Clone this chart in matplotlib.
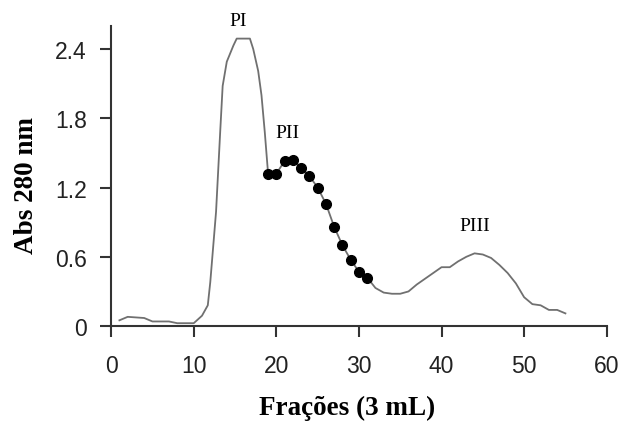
import matplotlib
matplotlib.use("Agg")
import matplotlib.pyplot as plt

# Perfil de eluição (Abs 280 nm) por fração
fracoes = [1, 2, 3, 4, 5, 6, 7, 8, 9, 10, 11, 11.7, 12, 12.7, 13.2, 13.5, 14, 14.8,
           15.2, 16.8, 17.2, 17.8, 18.2, 18.6, 19,
           20, 21, 22, 23, 24, 25, 26, 27, 28, 29, 30, 31,
           32, 33, 34, 35, 36, 37, 38, 39, 40, 41, 42, 43, 44, 45, 46, 47, 48,
           49, 50, 51, 52, 53, 54, 55]
absorb = [0.05, 0.08, 0.075, 0.07, 0.04, 0.04, 0.04, 0.025, 0.025, 0.025, 0.09, 0.18, 0.38,
          0.99, 1.68, 2.08, 2.29, 2.43, 2.49, 2.49, 2.40, 2.21, 2.00, 1.68, 1.32,
          1.32, 1.43, 1.44, 1.37, 1.30, 1.20, 1.06, 0.86, 0.70, 0.575, 0.47, 0.42,
          0.33, 0.29, 0.28, 0.28, 0.30, 0.36, 0.41, 0.46, 0.51, 0.51, 0.56, 0.60,
          0.63, 0.62, 0.59, 0.53, 0.46, 0.37, 0.25, 0.19, 0.18, 0.14, 0.14, 0.11]

# frações do pico PII marcadas com pontos
fracoes_pii = [19, 20, 21, 22, 23, 24, 25, 26, 27, 28, 29, 30, 31]
absorb_pii = [1.32, 1.32, 1.43, 1.44, 1.37, 1.30, 1.20, 1.06, 0.86, 0.70, 0.575, 0.47, 0.42]

picos = ["PI", "PII", "PIII"]
picos_x = [15.4, 21.4, 44.0]
picos_y = [2.65, 1.68, 0.875]

fig = plt.figure(figsize=(6.21, 4.27), dpi=100)
ax = fig.add_axes([0.179, 0.234, 0.798, 0.703])

ax.plot(fracoes, absorb, color="#707070", lw=1.3)
ax.plot(fracoes_pii, absorb_pii, "o", color="black", ms=7)

for nome, px, py in zip(picos, picos_x, picos_y):
    ax.text(px, py, nome, family="Liberation Serif", fontsize=14,
            ha="center", va="center", clip_on=False)

ax.set_xlim(0, 60)
ax.set_ylim(0, 2.6)
ax.set_xticks([0, 10, 20, 30, 40, 50, 60])
ax.set_yticks([0, 0.6, 1.2, 1.8, 2.4])
ax.set_yticklabels(["0", "0.6", "1.2", "1.8", "2.4"])

for s in ["top", "right"]:
    ax.spines[s].set_visible(False)
for s in ["left", "bottom"]:
    ax.spines[s].set_color("#333333")
    ax.spines[s].set_linewidth(1.5)

ax.tick_params(direction="out", length=8, width=1.5, color="#333333",
               labelsize=16.5, labelcolor="#222222")
ax.tick_params(axis="x", pad=12)
ax.tick_params(axis="y", pad=9.5)
for lab in ax.get_xticklabels() + ax.get_yticklabels():
    lab.set_family("Liberation Sans")

ax.set_xlabel("Frações (3 mL)", family="Liberation Serif", fontweight="bold",
              fontsize=19.5)
ax.set_ylabel("Abs 280 nm", family="Liberation Serif", fontweight="bold",
              fontsize=19.5)
ax.xaxis.set_label_coords(0.476, -0.23)
ax.yaxis.set_label_coords(-0.145, 0.473)

fig.savefig("out.png", dpi=100)
